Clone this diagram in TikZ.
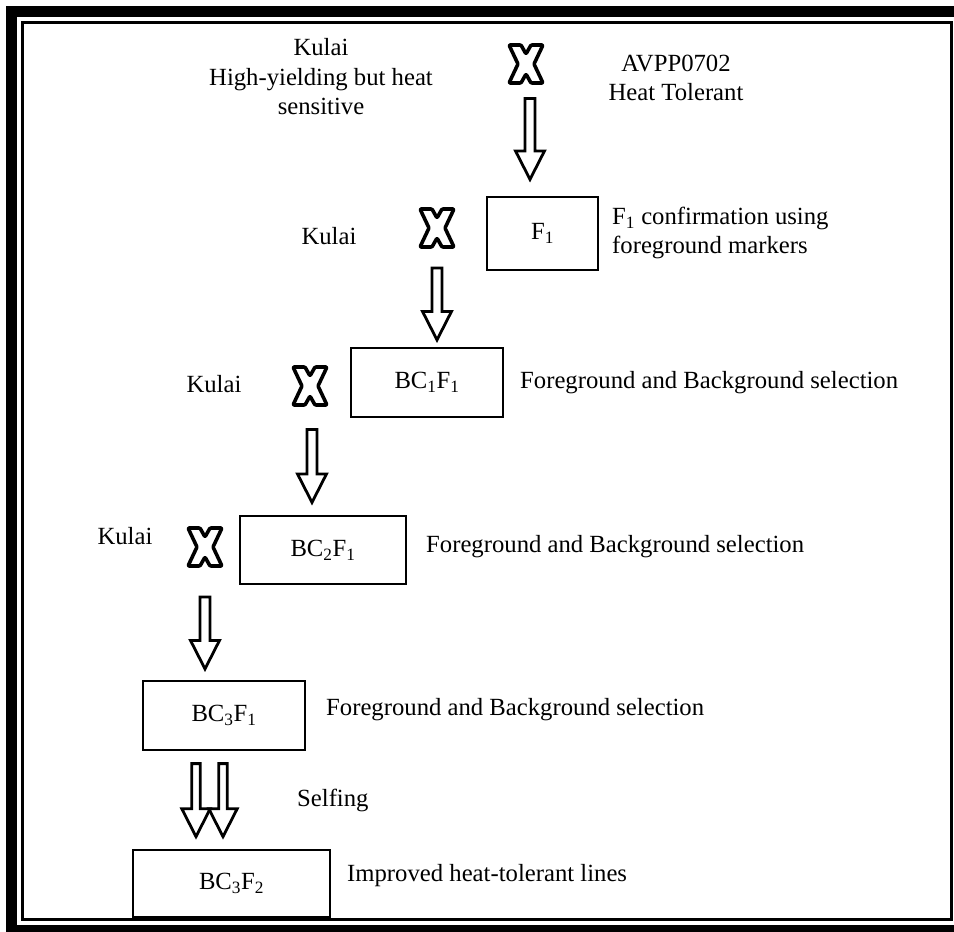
\documentclass[tikz,border=0pt]{standalone}
\usepackage{fontspec}
\setmainfont{Liberation Serif}
\usetikzlibrary{shapes.arrows,positioning}

\begin{document}
\begin{tikzpicture}[x=1pt,y=-1pt,font=\fontsize{24.7}{29.5}\selectfont,
  stage/.style={draw,line width=2pt,inner sep=0pt,minimum height=69pt},
  lbl/.style={inner sep=0pt,anchor=west,align=left},
  fat/.style={single arrow,draw,line width=2.8pt,fill=white,rotate=-90,
    inner xsep=0pt,inner ysep=3.6pt,single arrow head extend=9.5pt,single arrow tip angle=54},
  crossmark/.pic={\draw[line width=3.6pt,fill=white,line join=round,rounded corners=1pt]
    (-17,-19) -- (-5,-19) -- (0,-10) -- (5,-19) -- (17,-19) -- (8,0) -- (17,19)
    -- (5,19) -- (0,10) -- (-5,19) -- (-17,19) -- (-8,0) -- cycle;}]
\useasboundingbox (0,0) rectangle (954,932);
\clip (0,0) rectangle (954,932);
% frame
\draw[line width=11pt] (11.5,11.5) rectangle (962,930.5);
\draw[line width=3pt] (22.5,22.5) rectangle (951.5,919);
% parents
\node[inner sep=0pt,align=center] (kulai0) at (321,77) {Kulai\\High-yielding but heat\\sensitive};
\node[inner sep=0pt,align=center] (avpp) at (676,78) {AVPP0702\\Heat Tolerant};
\pic at (526,64) {crossmark};
\node[fat,minimum height=81pt] (a0) at (530,134) {};
% backcross generations
\node[stage,minimum width=111pt,minimum height=73pt] (f1) at (542.5,233.5) {F\textsubscript{1}};
\node[stage,minimum width=152pt] (bc1) at (427,382.5) {BC\textsubscript{1}F\textsubscript{1}};
\node[stage,minimum width=166pt,minimum height=68pt] (bc2) at (323,550) {BC\textsubscript{2}F\textsubscript{1}};
\node[stage,minimum width=162pt] (bc3) at (224,715.5) {BC\textsubscript{3}F\textsubscript{1}};
\node[stage,minimum width=197pt,minimum height=67pt] (bc3f2) at (231.5,883.5) {BC\textsubscript{3}F\textsubscript{2}};
% recurrent parent
\node[inner sep=0pt] (kulai1) at (329,236) {Kulai};
\node[inner sep=0pt] (kulai2) at (214,384) {Kulai};
\node[inner sep=0pt] (kulai3) at (125,536) {Kulai};
\foreach \p in {(437,228),(310,386),(205,547)}
  \pic at \p {crossmark};
\node[fat,minimum height=72pt] (a1) at (437,299) {};
\node[fat,minimum height=73pt] (a2) at (312,461) {};
\node[fat,minimum height=72pt] (a3) at (205,628) {};
\node[fat,minimum height=73pt,inner ysep=2.8pt,single arrow head extend=10pt] (s1) at (196,796) {};
\node[fat,minimum height=73pt,inner ysep=2.8pt,single arrow head extend=10pt] (s2) at (223,796) {};
% notes
\node[lbl] (n1) at (612,233) {F\textsubscript{1} confirmation using\\foreground markers};
\node[lbl] (n2) at (520,383) {Foreground and Background selection};
\node[lbl] (n3) at (426,547) {Foreground and Background selection};
\node[lbl] (n4) at (326,710) {Foreground and Background selection};
\node[lbl] (n5) at (297,800) {Selfing};
\node[lbl] (n6) at (347,876) {Improved heat-tolerant lines};
\end{tikzpicture}
\end{document}
